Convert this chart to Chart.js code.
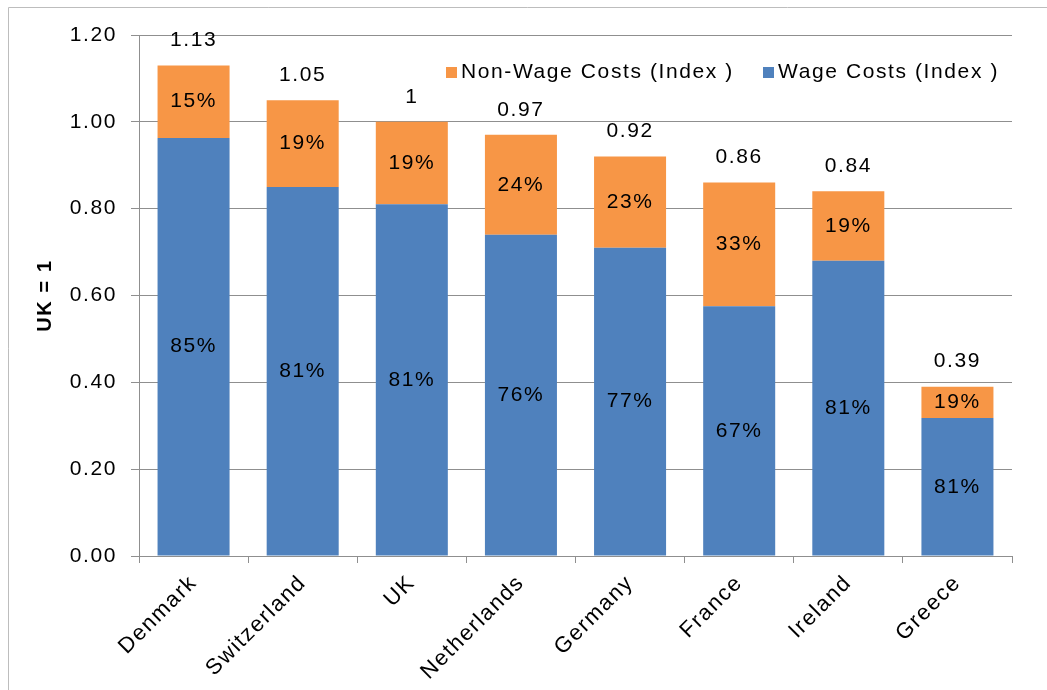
<!DOCTYPE html>
<html>
<head>
<meta charset="utf-8">
<script src="https://cdn.jsdelivr.net/npm/chart.js@4"></script>
<style>
  html, body { margin: 0; padding: 0; background: #fff; }
  #wrap { width: 1047px; height: 690px; }
</style>
</head>
<body>
<div id="wrap"><canvas id="costChart" width="1047" height="690"></canvas></div>
<script>
const countries = ["Denmark", "Switzerland", "UK", "Netherlands", "Germany", "France", "Ireland", "Greece"];
const wageCosts = [0.963, 0.85, 0.81, 0.74, 0.71, 0.575, 0.68, 0.318];
const nonWageCosts = [0.167, 0.20, 0.19, 0.23, 0.21, 0.285, 0.16, 0.072];
const totalLabels = ["1.13", "1.05", "1", "0.97", "0.92", "0.86", "0.84", "0.39"];
const wageShare = ["85%", "81%", "81%", "76%", "77%", "67%", "81%", "81%"];
const nonWageShare = ["15%", "19%", "19%", "24%", "23%", "33%", "19%", "19%"];

const BLUE = "#4F81BD";
const ORANGE = "#F79646";
const GRID = "#8f8f8f";
const FONT = "'Liberation Sans', Arial, sans-serif";

Chart.defaults.font.family = FONT;
Chart.defaults.color = "#000";

// frame, bar labels and legend drawn by hand
const extras = {
  id: "extras",
  beforeDraw(chart) {
    const ctx = chart.ctx;
    ctx.letterSpacing = "1.6px";
    ctx.save();
    ctx.strokeStyle = "#bdbdbd";
    ctx.lineWidth = 1;
    ctx.beginPath();
    ctx.moveTo(8.5, 690);
    ctx.lineTo(8.5, 7.5);
    ctx.lineTo(1047, 7.5);
    ctx.stroke();
    ctx.restore();
  },
  afterDatasetsDraw(chart) {
    const ctx = chart.ctx;
    const wageMeta = chart.getDatasetMeta(0);
    const nonMeta = chart.getDatasetMeta(1);
    ctx.save();
    ctx.fillStyle = "#000";
    ctx.font = "21px " + FONT;
    ctx.textAlign = "center";
    ctx.textBaseline = "middle";
    countries.forEach((c, i) => {
      const w = wageMeta.data[i];
      const n = nonMeta.data[i];
      ctx.fillText(wageShare[i], w.x, (w.y + w.base) / 2);
      ctx.fillText(nonWageShare[i], n.x, (n.y + n.base) / 2);
      ctx.fillText(totalLabels[i], n.x, n.y - 25);
    });

    // legend
    const ly = 72;
    ctx.textAlign = "left";
    ctx.fillStyle = ORANGE;
    ctx.fillRect(446, ly - 5, 11, 11);
    ctx.fillStyle = "#000";
    ctx.fillText("Non-Wage Costs (Index )", 461, ly);
    ctx.fillStyle = BLUE;
    ctx.fillRect(763, ly - 5, 11, 11);
    ctx.fillStyle = "#000";
    ctx.fillText("Wage Costs (Index )", 778, ly);
    ctx.restore();
  }
};

new Chart(document.getElementById("costChart"), {
  type: "bar",
  data: {
    labels: countries,
    datasets: [
      {
        label: "Wage Costs (Index )",
        data: wageCosts,
        backgroundColor: BLUE,
        stack: "cost",
      },
      {
        label: "Non-Wage Costs (Index )",
        data: nonWageCosts,
        backgroundColor: ORANGE,
        stack: "cost",
      },
    ],
  },
  options: {
    responsive: false,
    animation: false,
    datasets: {
      bar: { categoryPercentage: 1.0, barPercentage: 0.66 },
    },
    layout: { padding: { left: 10, right: 35, top: 35, bottom: 0 } },
    plugins: {
      legend: { display: false },
      tooltip: { enabled: false },
    },
    scales: {
      x: {
        stacked: true,
        offset: true,
        grid: {
          offset: true,
          drawOnChartArea: false,
          drawTicks: true,
          tickLength: 7,
          color: GRID,
        },
        border: { color: GRID },
        ticks: {
          maxRotation: 45,
          minRotation: 45,
          padding: 7,
          font: { size: 22 },
          color: "#000",
        },
        afterFit(scale) { scale.height = 134; },
      },
      y: {
        stacked: true,
        min: 0,
        max: 1.2,
        grid: { color: GRID, tickLength: 8 },
        border: { color: GRID },
        ticks: {
          stepSize: 0.2,
          padding: 14,
          font: { size: 21 },
          color: "#000",
          callback: (v) => Number(v).toFixed(2),
        },
        title: {
          display: true,
          text: "UK = 1",
          font: { size: 20, weight: "bold" },
          color: "#000",
          padding: { top: 23, bottom: 0 },
        },
        afterFit(scale) { scale.width = 129; },
      },
    },
  },
  plugins: [extras],
});
</script>
</body>
</html>
